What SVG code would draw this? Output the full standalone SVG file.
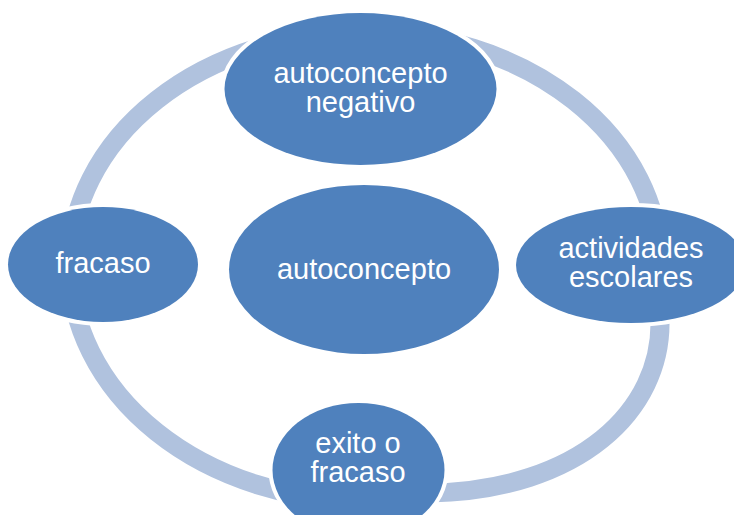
<svg xmlns="http://www.w3.org/2000/svg" width="734" height="515" viewBox="0 0 734 515">
<style>
.node{fill:#4F81BD;stroke:#FFFFFF;stroke-width:8;paint-order:stroke}
.lbl{font-family:"Liberation Sans",Arial,sans-serif;font-size:29px;fill:#FFFFFF;text-anchor:middle}
.ring{fill:none;stroke:#B0C2DE;stroke-width:19}
</style>
<rect width="734" height="515" fill="#FFFFFF"/>
<g id="connectors">
<path class="ring" d="M 70,265 A 295,233 0 0 1 660,265"/>
<path class="ring" d="M 70,265 A 295,236 0 0 0 365,501"/>
<path class="ring" d="M 660,265 L 660,320 C 662,410 580,490 430,493 L 365,497"/>
</g>
<g id="node-top">
<ellipse class="node" cx="360.5" cy="89" rx="136" ry="76"/>
<text class="lbl" x="360.5" y="83">autoconcepto</text>
<text class="lbl" x="360.5" y="112">negativo</text>
</g>
<g id="node-right">
<ellipse class="node" cx="631" cy="265" rx="115" ry="58"/>
<text class="lbl" x="631" y="258">actividades</text>
<text class="lbl" x="631" y="287">escolares</text>
</g>
<g id="node-bottom">
<ellipse class="node" cx="358.5" cy="470" rx="86" ry="67"/>
<text class="lbl" x="358" y="453">exito o</text>
<text class="lbl" x="358" y="482">fracaso</text>
</g>
<g id="node-left">
<ellipse class="node" cx="103" cy="264.5" rx="95" ry="57.5"/>
<text class="lbl" x="103" y="273">fracaso</text>
</g>
<g id="node-center">
<ellipse class="node" cx="364" cy="269.5" rx="135" ry="84.5"/>
<text class="lbl" x="364" y="279">autoconcepto</text>
</g>
</svg>
